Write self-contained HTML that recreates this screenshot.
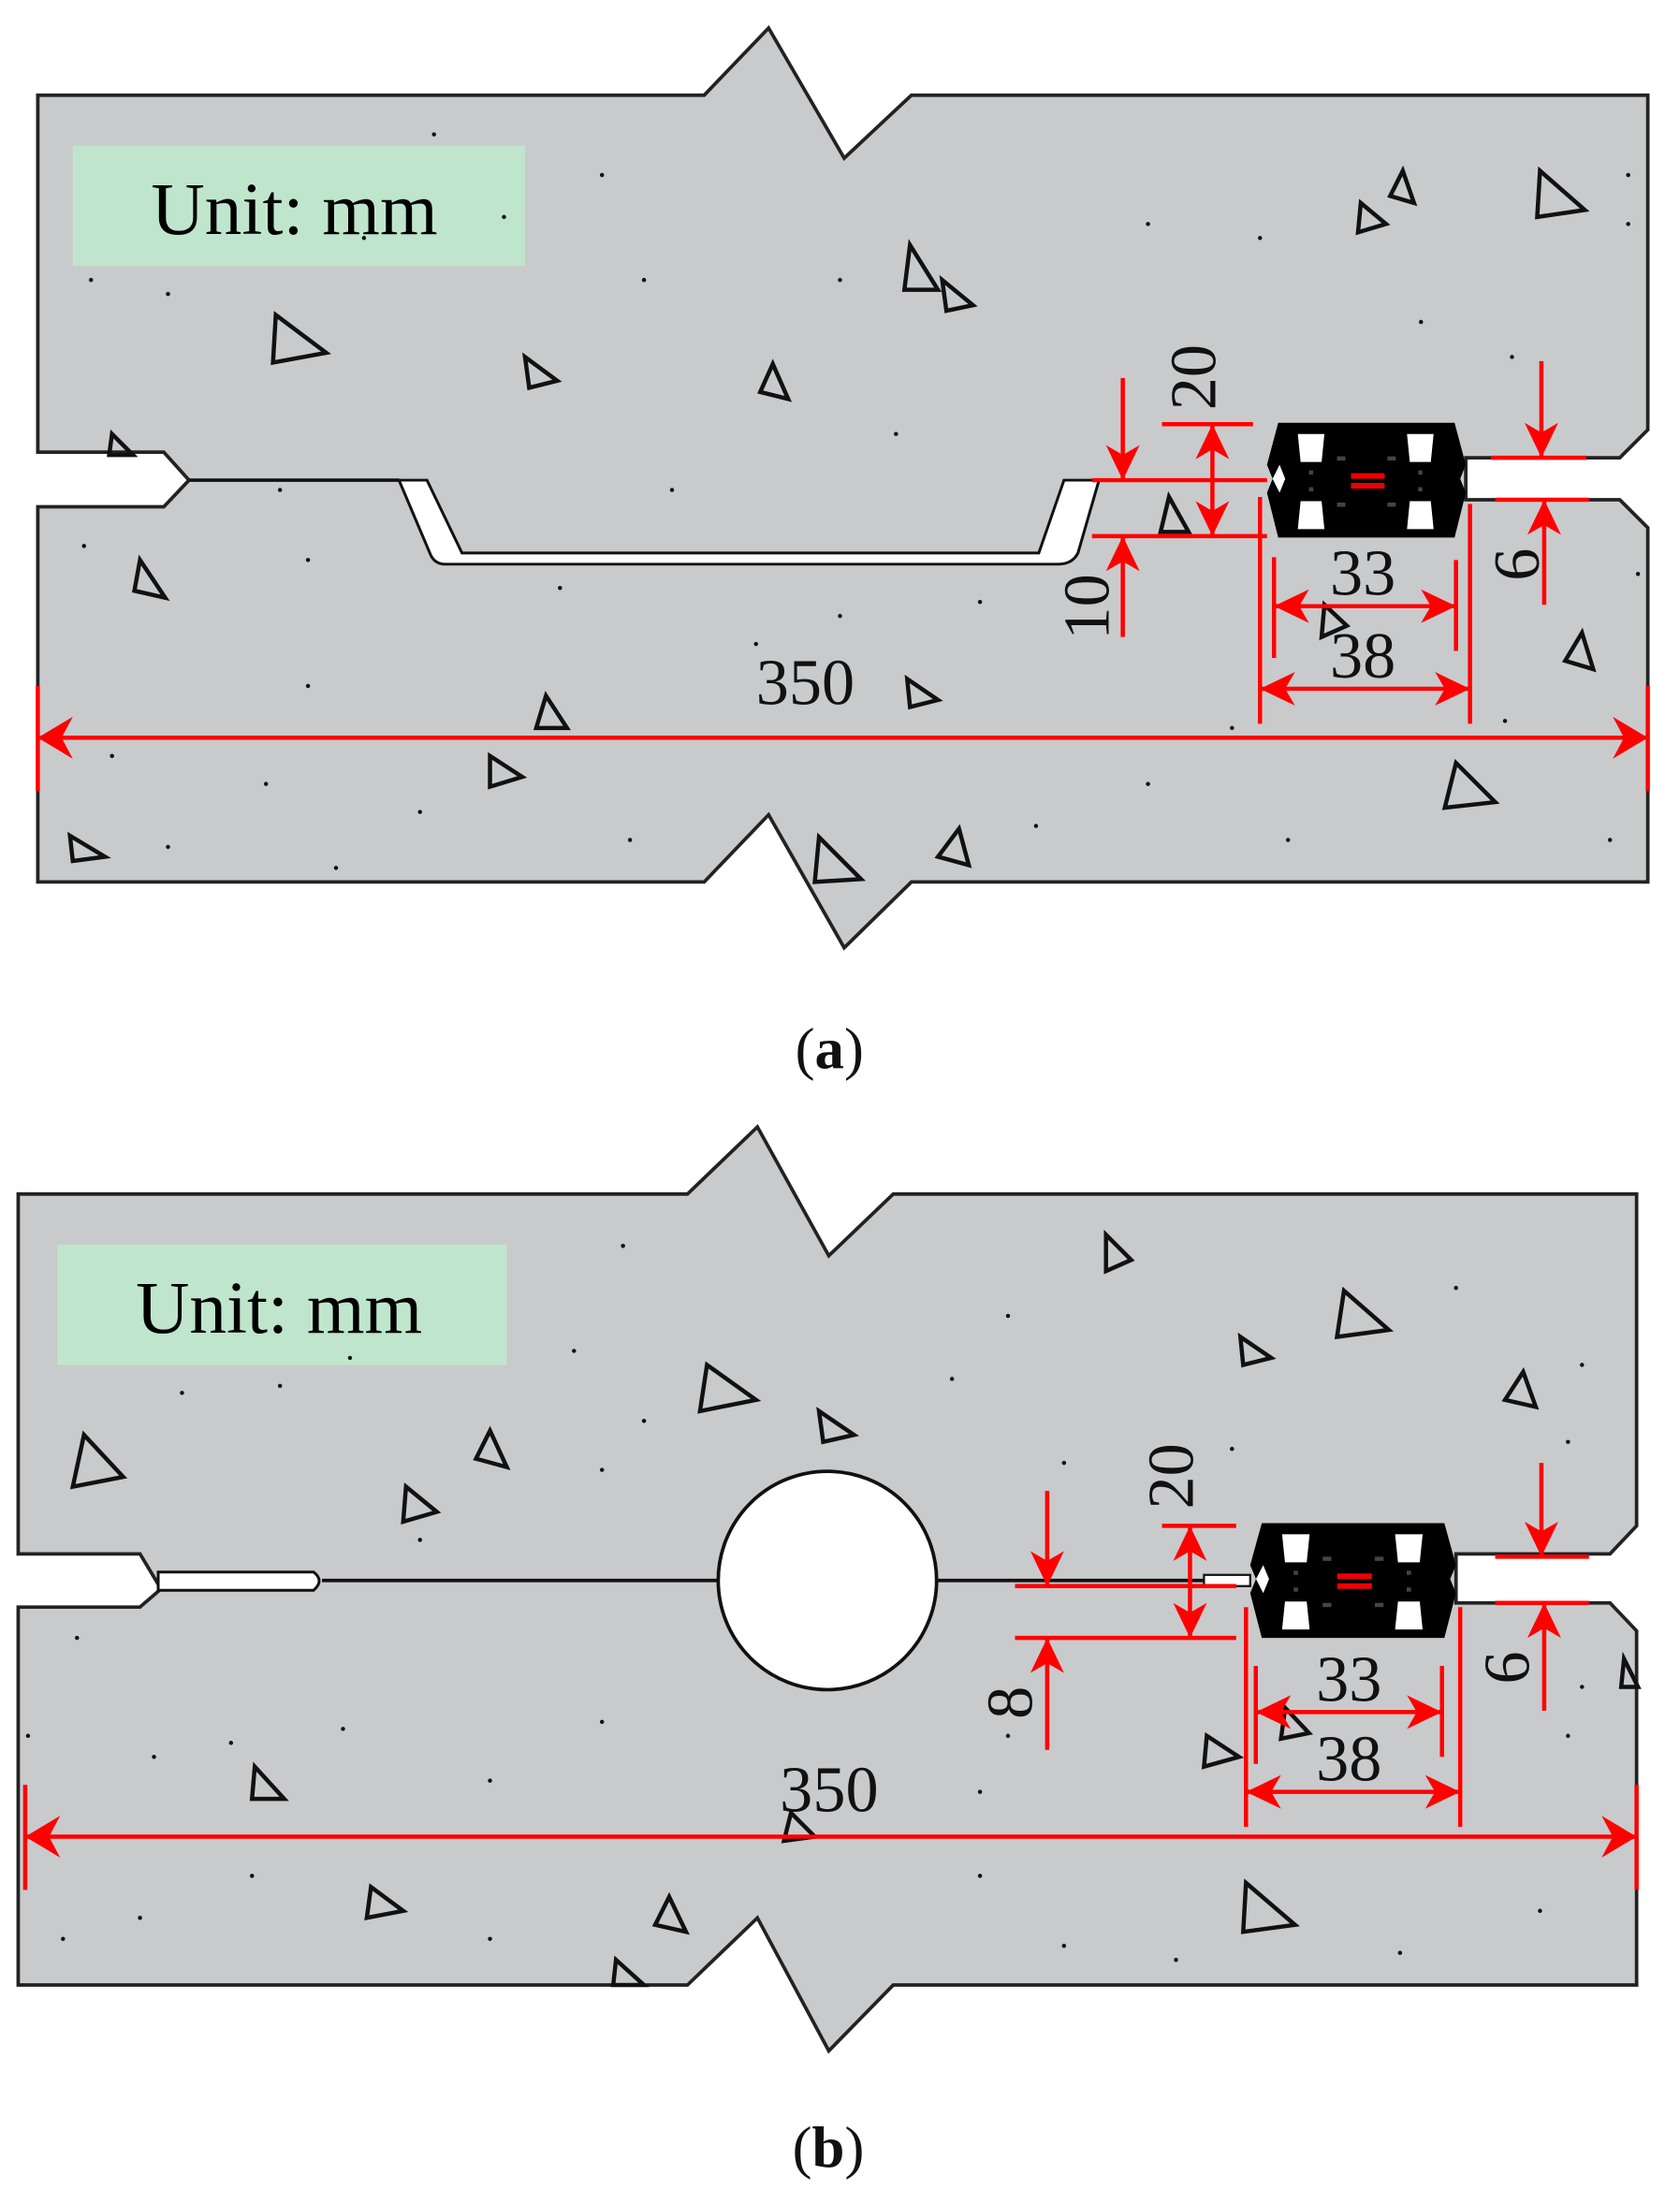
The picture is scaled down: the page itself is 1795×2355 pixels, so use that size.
<!DOCTYPE html>
<html><head><meta charset="utf-8"><style>
html,body{margin:0;padding:0;background:#fff;}
svg{display:block;}
text{font-family:"Liberation Serif",serif;}
</style></head><body>
<svg width="1795" height="2355" viewBox="0 0 1200 1574.4" preserveAspectRatio="none" xmlns="http://www.w3.org/2000/svg">
<defs>
<g id="sensor">
<path d="M8,0 L134,0 L142,30 L138,40 L142,50 L134,82 L8,82 L0,50 L4,40 L0,30 Z" fill="#000"/>
<path d="M4,40 L9,30 L13,40 L9,50 Z" fill="#fff"/>
<path d="M22,8 L41,8 L39,28 L24,28 Z M100,8 L119,8 L117,28 L102,28 Z M24,56 L39,56 L41,76 L22,76 Z M102,56 L117,56 L119,76 L100,76 Z" fill="#fff"/>
<rect x="60" y="36" width="24" height="4" fill="#e00"/>
<rect x="60" y="43" width="24" height="4" fill="#e00"/>
<g fill="#444"><rect x="50" y="24" width="6" height="3"/><rect x="86" y="24" width="6" height="3"/><rect x="50" y="57" width="6" height="3"/><rect x="86" y="57" width="6" height="3"/><rect x="30" y="34" width="3" height="3"/><rect x="30" y="46" width="3" height="3"/><rect x="108" y="34" width="3" height="3"/><rect x="108" y="46" width="3" height="3"/></g>
</g>
</defs>

<!-- Panel A -->
<path d="M27,68 L503,68 L549,20 L603,113 L651,68 L1177,68 L1177,307 L1157,327 L1047,327 L1047,357 L1157,357 L1177,377 L1177,630 L651,630 L603,677 L549,582 L503,630 L27,630 L27,362 L117,362 L135,343 L117,323 L27,323 Z" fill="#c9cacc" stroke="#222" stroke-width="2.5"/>
<path d="M135,343 L285,343" stroke="#111" stroke-width="2.5"/>
<path d="M285,343 L305,343 L330,395 L742,395 L760,343 L785,343 L770,395 Q766,403 756,403 L318,403 Q310,403 307,395 Z" fill="#fff" stroke="#111" stroke-width="2"/>
<path d="M785,343 L905,343" stroke="#111" stroke-width="2"/>
<use href="#sensor" x="905" y="302"/>
<rect x="52" y="104" width="323" height="86" fill="#bfe6cc"/>
<text x="108" y="167" font-size="53">Unit: mm</text>
<g fill="none" stroke="#111" stroke-width="3">
<path d="M197,225 L233,252 L195,259 Z"/><path d="M375,255 L398,272 L378,277 Z"/><path d="M552,260 L563,285 L543,280 Z"/>
<path d="M650,175 L670,207 L646,207 Z"/><path d="M673,200 L695,218 L676,222 Z"/><path d="M1002,122 L1010,145 L993,140 Z"/>
<path d="M972,145 L990,160 L970,166 Z"/><path d="M1100,122 L1132,150 L1098,155 Z"/><path d="M80,310 L95,325 L78,325 Z"/>
<path d="M100,400 L118,427 L96,422 Z"/><path d="M835,355 L849,380 L829,380 Z"/><path d="M946,432 L962,447 L944,455 Z"/>
<path d="M1130,452 L1138,478 L1118,472 Z"/><path d="M390,497 L405,520 L383,520 Z"/><path d="M648,485 L670,500 L650,505 Z"/>
<path d="M350,540 L373,555 L350,562 Z"/><path d="M1040,545 L1068,573 L1032,577 Z"/><path d="M50,597 L75,612 L52,615 Z"/>
<path d="M585,598 L615,628 L582,630 Z"/><path d="M685,592 L692,618 L670,612 Z"/>
</g>
<g fill="#111">
<circle cx="65" cy="200" r="1.5"/><circle cx="120" cy="210" r="1.5"/><circle cx="260" cy="170" r="1.5"/><circle cx="310" cy="96" r="1.5"/><circle cx="360" cy="155" r="1.5"/><circle cx="430" cy="125" r="1.5"/><circle cx="460" cy="200" r="1.5"/><circle cx="600" cy="200" r="1.5"/><circle cx="820" cy="160" r="1.5"/><circle cx="900" cy="170" r="1.5"/><circle cx="1163" cy="125" r="1.5"/><circle cx="1163" cy="160" r="1.5"/><circle cx="1080" cy="255" r="1.5"/><circle cx="1015" cy="230" r="1.5"/><circle cx="640" cy="310" r="1.5"/><circle cx="480" cy="350" r="1.5"/><circle cx="200" cy="350" r="1.5"/><circle cx="60" cy="390" r="1.5"/><circle cx="220" cy="400" r="1.5"/><circle cx="400" cy="420" r="1.5"/><circle cx="600" cy="440" r="1.5"/><circle cx="700" cy="430" r="1.5"/><circle cx="220" cy="490" r="1.5"/><circle cx="540" cy="460" r="1.5"/><circle cx="1170" cy="410" r="1.5"/><circle cx="80" cy="540" r="1.5"/><circle cx="190" cy="560" r="1.5"/><circle cx="300" cy="580" r="1.5"/><circle cx="740" cy="590" r="1.5"/><circle cx="820" cy="560" r="1.5"/><circle cx="920" cy="600" r="1.5"/><circle cx="1150" cy="600" r="1.5"/><circle cx="120" cy="605" r="1.5"/><circle cx="240" cy="620" r="1.5"/><circle cx="450" cy="600" r="1.5"/><circle cx="880" cy="520" r="1.5"/><circle cx="1075" cy="515" r="1.5"/>
</g>
<!-- dims A -->
<g stroke="#f00" stroke-width="3" fill="none">
<path d="M27,490 L27,565 M1177,490 L1177,565 M27,527 L1177,527"/>
<path d="M780,343 L905,343 M780,383 L905,383 M830,303 L895,303"/>
<path d="M802,270 L802,343 M802,383 L802,455 M866,303 L866,383"/>
<path d="M910,398 L910,470 M1040,400 L1040,465 M910,433 L1040,433"/>
<path d="M900,355 L900,517 M1050,360 L1050,517 M900,492 L1050,492"/>
<path d="M1065,327 L1133,327 M1068,357 L1135,357 M1101,258 L1101,327 M1103,357 L1103,432"/>
</g>
<g fill="#f00">
<path d="M27,527 L52,512 L44,527 L52,542 Z M1177,527 L1152,512 L1160,527 L1152,542 Z"/>
<path d="M802,343 L790,318 L802,325 L814,318 Z M802,383 L790,408 L802,401 L814,408 Z"/>
<path d="M866,303 L854,328 L866,321 L878,328 Z M866,383 L854,358 L866,365 L878,358 Z"/>
<path d="M910,433 L935,421 L928,433 L935,445 Z M1040,433 L1015,421 L1022,433 L1015,445 Z"/>
<path d="M900,492 L925,480 L918,492 L925,504 Z M1050,492 L1025,480 L1032,492 L1025,504 Z"/>
<path d="M1101,327 L1089,302 L1101,309 L1113,302 Z M1103,357 L1091,382 L1103,375 L1115,382 Z"/>
</g>
<g font-size="47" fill="#111">
<text x="540" y="503">350</text>
<text x="950" y="425">33</text>
<text x="950" y="484">38</text>
<text transform="translate(792,457) rotate(-90)">10</text>
<text transform="translate(868,293) rotate(-90)">20</text>
<text transform="translate(1099,415) rotate(-90)">6</text>
</g>
<text x="568" y="763" font-size="42" fill="#111">(<tspan font-weight="bold">a</tspan>)</text>

<!-- Panel B -->
<path d="M13,853 L491,853 L541,805 L592,897 L638,853 L1169,853 L1169,1090 L1150,1110 L1040,1110 L1040,1145 L1150,1145 L1169,1165 L1169,1418 L638,1418 L592,1465 L541,1370 L491,1418 L13,1418 L13,1148 L100,1148 L115,1135 L100,1110 L13,1110 Z" fill="#c9cacc" stroke="#222" stroke-width="2.5"/>
<path d="M113,1123 L224,1123 Q232,1129 224,1136 L113,1136 Z" fill="#fff" stroke="#111" stroke-width="2"/>
<path d="M230,1129 L893,1129" stroke="#111" stroke-width="2.5"/>
<rect x="860" y="1125" width="33" height="8" fill="#fff" stroke="#111" stroke-width="1.5"/>
<circle cx="591" cy="1129" r="78" fill="#fff" stroke="#111" stroke-width="2.5"/>
<use href="#sensor" transform="translate(893,1088) scale(1.035,1)"/>
<rect x="41" y="889" width="321" height="86" fill="#bfe6cc"/>
<text x="97" y="952" font-size="53">Unit: mm</text>
<g fill="none" stroke="#111" stroke-width="3">
<path d="M60,1025 L88,1055 L52,1062 Z"/><path d="M350,1022 L362,1048 L340,1042 Z"/><path d="M290,1062 L312,1080 L288,1087 Z"/>
<path d="M505,975 L540,1000 L500,1008 Z"/><path d="M585,1008 L610,1025 L588,1030 Z"/><path d="M790,882 L808,900 L790,908 Z"/>
<path d="M960,922 L992,950 L955,955 Z"/><path d="M886,955 L908,970 L888,975 Z"/><path d="M1088,980 L1097,1005 L1075,1000 Z"/>
<path d="M1160,1185 L1170,1205 L1158,1205 Z"/><path d="M862,1240 L885,1255 L860,1262 Z"/><path d="M182,1262 L203,1285 L180,1285 Z"/>
<path d="M565,1295 L582,1312 L560,1315 Z"/><path d="M265,1348 L288,1365 L262,1370 Z"/><path d="M478,1355 L490,1380 L468,1375 Z"/>
<path d="M890,1345 L925,1375 L888,1380 Z"/><path d="M440,1400 L460,1418 L438,1418 Z"/><path d="M918,1220 L935,1238 L915,1242 Z"/>
</g>
<g fill="#111">
<circle cx="130" cy="995" r="1.5"/><circle cx="200" cy="990" r="1.5"/><circle cx="250" cy="970" r="1.5"/><circle cx="410" cy="965" r="1.5"/><circle cx="445" cy="890" r="1.5"/><circle cx="460" cy="1015" r="1.5"/><circle cx="430" cy="1050" r="1.5"/><circle cx="680" cy="985" r="1.5"/><circle cx="720" cy="940" r="1.5"/><circle cx="760" cy="1045" r="1.5"/><circle cx="1130" cy="975" r="1.5"/><circle cx="1120" cy="1030" r="1.5"/><circle cx="1040" cy="920" r="1.5"/><circle cx="880" cy="1035" r="1.5"/><circle cx="300" cy="1100" r="1.5"/><circle cx="55" cy="1170" r="1.5"/><circle cx="20" cy="1240" r="1.5"/><circle cx="110" cy="1255" r="1.5"/><circle cx="165" cy="1245" r="1.5"/><circle cx="245" cy="1235" r="1.5"/><circle cx="350" cy="1272" r="1.5"/><circle cx="430" cy="1230" r="1.5"/><circle cx="720" cy="1240" r="1.5"/><circle cx="700" cy="1280" r="1.5"/><circle cx="1120" cy="1240" r="1.5"/><circle cx="1130" cy="1205" r="1.5"/><circle cx="45" cy="1385" r="1.5"/><circle cx="100" cy="1370" r="1.5"/><circle cx="180" cy="1340" r="1.5"/><circle cx="350" cy="1385" r="1.5"/><circle cx="700" cy="1340" r="1.5"/><circle cx="760" cy="1390" r="1.5"/><circle cx="840" cy="1400" r="1.5"/><circle cx="1000" cy="1395" r="1.5"/><circle cx="1100" cy="1365" r="1.5"/>
</g>
<!-- dims B -->
<g stroke="#f00" stroke-width="3" fill="none">
<path d="M18,1275 L18,1350 M1169,1275 L1169,1350 M18,1312 L1169,1312"/>
<path d="M725,1133 L883,1133 M725,1170 L883,1170 M830,1090 L883,1090"/>
<path d="M748,1065 L748,1133 M748,1170 L748,1250 M850,1090 L850,1170"/>
<path d="M897,1190 L897,1260 M1030,1190 L1030,1255 M897,1223 L1030,1223"/>
<path d="M890,1148 L890,1305 M1043,1148 L1043,1305 M890,1280 L1043,1280"/>
<path d="M1068,1112 L1135,1112 M1068,1145 L1135,1145 M1101,1045 L1101,1112 M1103,1145 L1103,1222"/>
</g>
<g fill="#f00">
<path d="M18,1312 L43,1297 L35,1312 L43,1327 Z M1169,1312 L1144,1297 L1152,1312 L1144,1327 Z"/>
<path d="M748,1133 L736,1108 L748,1115 L760,1108 Z M748,1170 L736,1195 L748,1188 L760,1195 Z"/>
<path d="M850,1090 L838,1115 L850,1108 L862,1115 Z M850,1170 L838,1145 L850,1152 L862,1145 Z"/>
<path d="M897,1223 L922,1211 L915,1223 L922,1235 Z M1030,1223 L1005,1211 L1012,1223 L1005,1235 Z"/>
<path d="M890,1280 L915,1268 L908,1280 L915,1292 Z M1043,1280 L1018,1268 L1025,1280 L1018,1292 Z"/>
<path d="M1101,1112 L1089,1087 L1101,1094 L1113,1087 Z M1103,1145 L1091,1170 L1103,1163 L1115,1170 Z"/>
</g>
<g font-size="47" fill="#111">
<text x="557" y="1294">350</text>
<text x="940" y="1215">33</text>
<text x="940" y="1272">38</text>
<text transform="translate(737,1228) rotate(-90)">8</text>
<text transform="translate(852,1078) rotate(-90)">20</text>
<text transform="translate(1092,1203) rotate(-90)">6</text>
</g>
<text x="566" y="1548" font-size="42" fill="#111">(<tspan font-weight="bold">b</tspan>)</text>
</svg>
</body></html>
